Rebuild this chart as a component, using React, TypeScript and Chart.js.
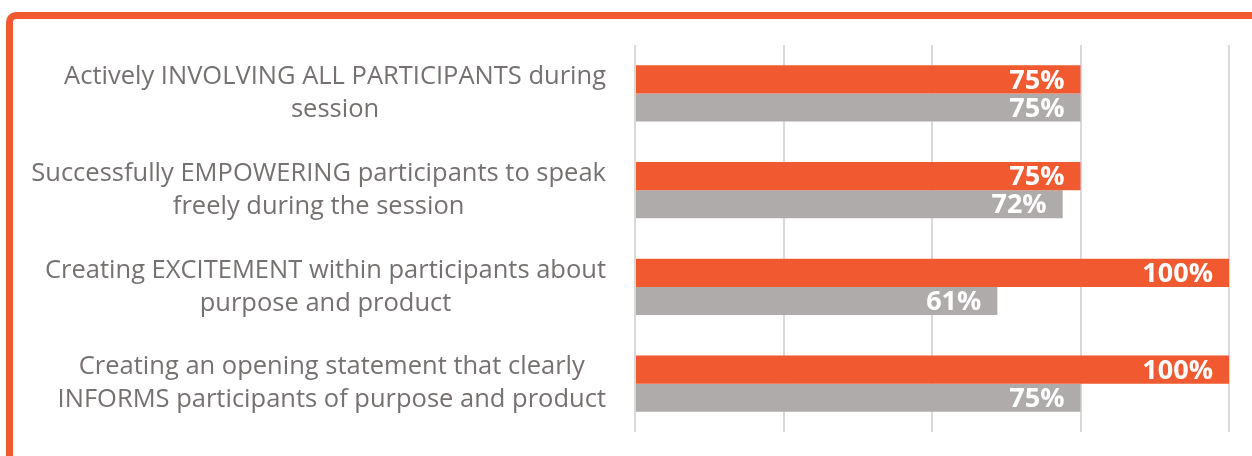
import React, { useEffect, useRef } from "react";
import { Chart, registerables } from "chart.js";

Chart.register(...registerables);

const categories: string[][] = [
  ["Actively INVOLVING ALL PARTICIPANTS during", "session"],
  ["Successfully EMPOWERING participants to speak", "freely during the session"],
  ["Creating EXCITEMENT within participants about", "purpose and product"],
  ["Creating an opening statement that clearly", "INFORMS participants of purpose and product"],
];
const seriesOrange = [75, 75, 100, 100];
const seriesGray = [75, 72, 61, 75];
const xMin = 0;
const xMax = 100;
const xStep = 25;

const ORANGE = "#F15A30";
const GRAY = "#AFABAB";
const TEXT = "#767171";

const categoryLabelPlugin = {
  id: "categoryLabels",
  afterDraw(chart: any) {
    const { ctx, chartArea } = chart;
    const y = chart.scales.y;
    ctx.save();
    ctx.font = '25.5px "Open Sans"';
    ctx.fillStyle = TEXT;
    ctx.textAlign = "center";
    ctx.textBaseline = "middle";
    const lineH = 33;
    categories.forEach((lines, i) => {
      const widest = Math.max(...lines.map((l) => ctx.measureText(l).width));
      const cx = chartArea.left - 29 - widest / 2;
      const cy = y.getPixelForValue(i);
      lines.forEach((l, j) => {
        ctx.fillText(l, cx, cy + (j - (lines.length - 1) / 2) * lineH);
      });
    });
    ctx.restore();
  },
};

const valueLabelPlugin = {
  id: "valueLabels",
  afterDatasetsDraw(chart: any) {
    const { ctx } = chart;
    ctx.save();
    ctx.font = 'bold 27px "Open Sans"';
    ctx.fillStyle = "#FFFFFF";
    ctx.textAlign = "right";
    ctx.textBaseline = "middle";
    chart.data.datasets.forEach((ds: any, di: number) => {
      const meta = chart.getDatasetMeta(di);
      meta.data.forEach((bar: any, i: number) => {
        ctx.fillText(ds.data[i] + "%", bar.x - 16, bar.y + 1.5);
      });
    });
    ctx.restore();
  },
};

export default function App() {
  const ref = useRef<HTMLCanvasElement>(null);
  useEffect(() => {
    if (!ref.current) return;
    const chart = new Chart(ref.current, {
      type: "bar",
      data: {
        labels: categories.map((c) => c.join(" ")),
        datasets: [
          {
            data: seriesOrange,
            backgroundColor: ORANGE,
            categoryPercentage: 0.58,
            barPercentage: 1,
          },
          {
            data: seriesGray,
            backgroundColor: GRAY,
            categoryPercentage: 0.58,
            barPercentage: 1,
          },
        ],
      },
      options: {
        indexAxis: "y",
        responsive: false,
        animation: false,
        devicePixelRatio: 1,
        layout: { padding: { left: 635, right: 23, top: 45, bottom: 24 } },
        plugins: {
          legend: { display: false },
          tooltip: { enabled: false },
        },
        scales: {
          x: {
            min: xMin,
            max: xMax,
            ticks: { display: false, stepSize: xStep },
            grid: { color: "#D9D9D9", lineWidth: 2, drawTicks: false },
            border: { display: false },
          },
          y: {
            display: false,
          },
        },
      },
      plugins: [categoryLabelPlugin, valueLabelPlugin],
    });
    return () => chart.destroy();
  }, []);

  return (
    <div style={{ position: "fixed", left: 0, top: 0, width: 1252, height: 456, overflow: "hidden", background: "#fff" }}>
      <div
        style={{
          position: "absolute",
          left: 6,
          top: 12,
          width: 1300,
          height: 500,
          borderLeft: `7px solid ${ORANGE}`,
          borderTop: `7px solid ${ORANGE}`,
          borderTopLeftRadius: 10,
          boxSizing: "border-box",
        }}
      />
      <canvas ref={ref} width={1252} height={456} style={{ position: "absolute", left: 0, top: 0 }} />
    </div>
  );
}
